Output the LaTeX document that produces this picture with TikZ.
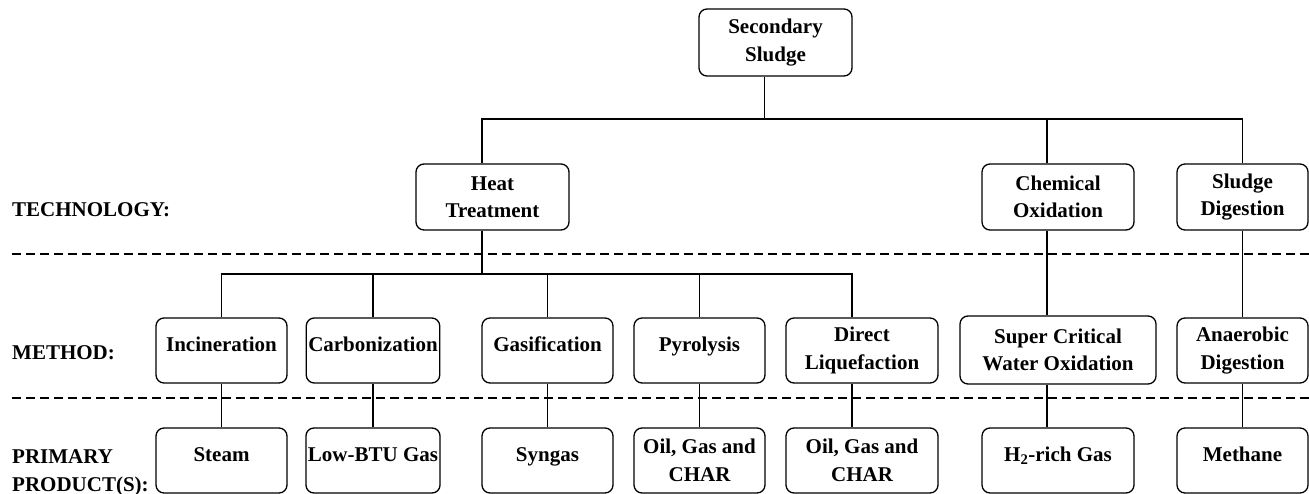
\documentclass[tikz,border=0pt]{standalone}
\usepackage{fontspec}
\setmainfont{Liberation Serif}
\usepackage{tikz}
\tikzset{
  every node/.style={font=\bfseries\fontsize{21}{27.5}\selectfont},
  stagebox/.style={draw, line width=1.3pt, rounded corners=8pt, align=center,
    inner sep=2pt},
  oneline/.style={text height=14pt, text depth=12pt},
  link/.style={line width=1.2pt},
  divider/.style={line width=1.2pt, dash pattern=on 9pt off 5pt},
  rowlabel/.style={anchor=west, align=left, inner sep=0pt}
}

\begin{document}
\begin{tikzpicture}[x=1pt, y=-1pt]

  % Frame of the picture (y grows downwards).
  \useasboundingbox (0,0) rectangle (1309,494);
  \clip (0,0) rectangle (1309,494);

  % Row labels.
  \node[rowlabel] (lbltech) at (12,210) {TECHNOLOGY:};
  \node[rowlabel] (lblmeth) at (12,353) {METHOD:};
  \node[rowlabel] (lblprod) at (12,473) {PRIMARY\\PRODUCT(S):};

  % Row dividers.
  \draw[divider] (12,254) -- (1309,254);
  \draw[divider] (12,398) -- (1309,398);

  % Source.
  \node[stagebox, minimum width=153pt, minimum height=67pt] (sec)
    at (775.5,42.5) {Secondary\\Sludge};

  % Technologies.
  \node[stagebox, minimum width=153pt, minimum height=66pt] (heat)
    at (492.5,197) {Heat\\Treatment};
  \node[stagebox, minimum width=152pt, minimum height=66pt] (chem)
    at (1058,197) {Chemical\\Oxidation};
  \node[stagebox, minimum width=131pt, minimum height=66pt] (dig)
    at (1242.5,197) {Sludge\\Digestion};

  % Methods.
  \node[stagebox, oneline, minimum width=131pt, minimum height=65pt] (inc)
    at (221.5,350.5) {Incineration};
  \node[stagebox, oneline, minimum width=132pt, minimum height=65pt] (carb)
    at (373,350.5) {Carbonization};
  \node[stagebox, oneline, minimum width=131pt, minimum height=65pt] (gas)
    at (547.5,350.5) {Gasification};
  \node[stagebox, oneline, minimum width=131pt, minimum height=65pt] (pyr)
    at (699.5,350.5) {Pyrolysis};
  \node[stagebox, minimum width=152pt, minimum height=65pt] (liq)
    at (862,350.5) {Direct\\Liquefaction};
  \node[stagebox, minimum width=196pt, minimum height=68pt] (scwo)
    at (1058,350) {Super Critical\\Water Oxidation};
  \node[stagebox, minimum width=131pt, minimum height=65pt] (ana)
    at (1242.5,350.5) {Anaerobic\\Digestion};

  % Primary products.
  \node[stagebox, oneline, minimum width=131pt, minimum height=65pt] (steam)
    at (221.5,460.5) {Steam};
  \node[stagebox, oneline, minimum width=132pt, minimum height=65pt] (lowbtu)
    at (373,460.5) {Low-BTU Gas};
  \node[stagebox, oneline, minimum width=131pt, minimum height=65pt] (syngas)
    at (547.5,460.5) {Syngas};
  \node[stagebox, minimum width=131pt, minimum height=65pt] (oilpyr)
    at (699.5,460.5) {Oil, Gas and\\CHAR};
  \node[stagebox, minimum width=152pt, minimum height=65pt] (oilliq)
    at (862,460.5) {Oil, Gas and\\CHAR};
  \node[stagebox, oneline, minimum width=152pt, minimum height=65pt] (hgas)
    at (1058,460.5) {H\textsubscript{2}-rich Gas};
  \node[stagebox, oneline, minimum width=131pt, minimum height=65pt] (methane)
    at (1242.5,460.5) {Methane};

  % Source to technologies.
  \coordinate (busT) at (0,119);
  \draw[link] ([xshift=-11pt]sec.south) -- ([xshift=-11pt]sec.south |- busT);
  \draw[link] ([xshift=-10.5pt]heat.north) |- (dig.north |- busT) -- (dig.north);
  \draw[link] ([xshift=-11pt]chem.north) -- ([xshift=-11pt]chem.north |- busT);

  % Heat treatment to its methods.
  \coordinate (busM) at (0,274);
  \draw[link] ([xshift=-10.5pt]heat.south) -- ([xshift=-10.5pt]heat.south |- busM);
  \draw[link] (inc.north) |- ([xshift=-10pt]liq.north |- busM)
    -- ([xshift=-10pt]liq.north);
  \foreach \m in {carb,gas,pyr} {
    \draw[link] (\m.north) -- (\m.north |- busM);
  }

  % Other technologies to their methods.
  \draw[link] ([xshift=-11pt]chem.south) -- ([xshift=-11pt]scwo.north);
  \draw[link] (dig.south) -- (ana.north);

  % Methods to products.
  \foreach \m/\p in {inc/steam,carb/lowbtu,gas/syngas,pyr/oilpyr,ana/methane} {
    \draw[link] (\m.south) -- (\p.north);
  }
  \draw[link] ([xshift=-10pt]liq.south) -- ([xshift=-10pt]oilliq.north);
  \draw[link] ([xshift=-11pt]scwo.south) -- ([xshift=-11pt]hgas.north);

\end{tikzpicture}
\end{document}
